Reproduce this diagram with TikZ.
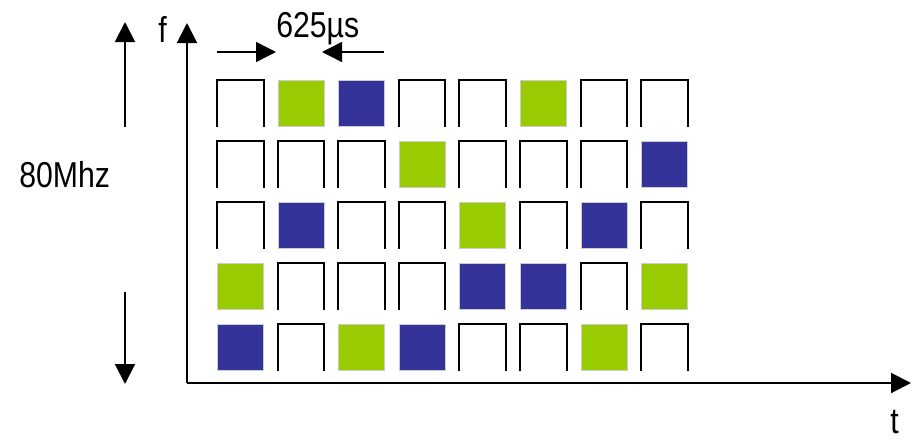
\documentclass[tikz,border=0pt]{standalone}
\usepackage{fontspec}
\setmainfont{Liberation Sans}[FakeStretch=0.84]
\usetikzlibrary{arrows.meta}
\definecolor{hopgreen}{HTML}{99CC00}
\definecolor{hopblue}{HTML}{333399}
\tikzset{
  bigarrow/.style={line width=1.5pt,-{Triangle[width=15pt,length=15pt]}},
  smallarrow/.style={line width=1.1pt,-{Triangle[width=15pt,length=15pt]}},
  lbl/.style={inner sep=0pt,anchor=base west,font=\fontsize{27}{30}\selectfont},
  cellbox/.style={minimum width=34.5pt,minimum height=34.5pt,inner sep=0pt,anchor=north west},
  slot/.style={line width=1.5pt},
  gcell/.style={cellbox,fill=hopgreen,draw=black!20,line width=0.6pt},
  bcell/.style={cellbox,fill=hopblue,draw=black!20,line width=0.6pt},
}
\begin{document}
\begin{tikzpicture}[x=0.75pt,y=-0.75pt]
\useasboundingbox (0,0) rectangle (914,440);
% axes
\coordinate (O) at (187,383);
\coordinate (ftip) at (187,23);
\coordinate (ttip) at (911,383);
\draw[bigarrow] (O) -- (ftip);
\draw[bigarrow] (O) -- (ttip);
\node[lbl] (flab) at (158,42) {f};
\node[lbl] (tlab) at (890,433) {t};
% 80 MHz arrows
\coordinate (u0) at (125,127);
\coordinate (u1) at (125,22);
\coordinate (d0) at (125,292);
\coordinate (d1) at (125,384);
\draw[bigarrow] (u0) -- (u1);
\draw[bigarrow] (d0) -- (d1);
\node[lbl] (mhz) at (19,187) {80Mhz};
% 625 us arrows
\coordinate (r0) at (217,52);
\coordinate (r1) at (276,52);
\coordinate (l0) at (384,52);
\coordinate (l1) at (322,52);
\draw[smallarrow] (r0) -- (r1);
\draw[smallarrow] (l0) -- (l1);
\node[lbl] (us) at (276,37) {625µs};
% cells: row/column/kind (E empty, G green, B blue)
\foreach \r/\c/\k in {
  0/0/E,0/1/G,0/2/B,0/3/E,0/4/E,0/5/G,0/6/E,0/7/E,
  1/0/E,1/1/E,1/2/E,1/3/G,1/4/E,1/5/E,1/6/E,1/7/B,
  2/0/E,2/1/B,2/2/E,2/3/E,2/4/G,2/5/E,2/6/B,2/7/E,
  3/0/G,3/1/E,3/2/E,3/3/E,3/4/B,3/5/B,3/6/E,3/7/G,
  4/0/B,4/1/E,4/2/G,4/3/B,4/4/E,4/5/E,4/6/G,4/7/E}{
  \pgfmathsetmacro{\cx}{217+60.6*\c}
  \pgfmathsetmacro{\cy}{80+61*\r}
  \if\k E
    \node[cellbox] (cell-\r-\c) at (\cx,\cy) {};
    \draw[slot] (cell-\r-\c.south west) -- (cell-\r-\c.north west) -- (cell-\r-\c.north east) -- (cell-\r-\c.south east);
  \else\if\k G
    \node[gcell] (cell-\r-\c) at (\cx,\cy) {};
  \else
    \node[bcell] (cell-\r-\c) at (\cx,\cy) {};
  \fi\fi
}
\end{tikzpicture}
\end{document}
